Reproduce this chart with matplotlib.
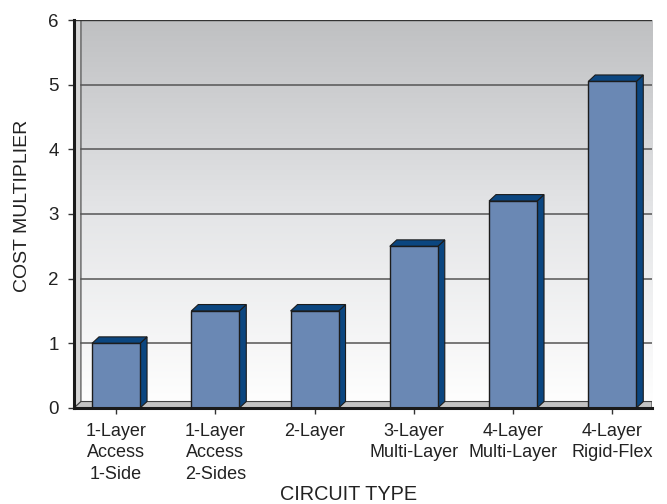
import matplotlib

matplotlib.use("Agg")

import matplotlib.pyplot as plt
import numpy as np
from matplotlib.colors import LinearSegmentedColormap
from matplotlib.patches import Polygon, Rectangle

plt.rcParams["font.family"] = ["Liberation Sans", "DejaVu Sans"]

CATEGORIES = [
    "1-Layer\nAccess\n1-Side",
    "1-Layer\nAccess\n2-Sides",
    "2-Layer",
    "3-Layer\nMulti-Layer",
    "4-Layer\nMulti-Layer",
    "4-Layer\nRigid-Flex",
]
COST = [1.0, 1.5, 1.5, 2.5, 3.2, 5.05]
Y_TICKS = [0, 1, 2, 3, 4, 5, 6]

FRONT = "#6a88b4"
SIDE = "#0b4680"
EDGE = "#1c1c1c"

BAR_W = 0.484
DX = 0.07   # depth offset in x (data units)
DY = 0.10   # depth offset in y (data units)
XMIN, XMAX = -0.424, 5.40
YMAX = 6.0


def draw_walls(ax):
    # back wall gradient
    cmap = LinearSegmentedColormap.from_list("wall", ["#fefefe", "#e4e5e7", "#bfc0c2"])
    grad = np.linspace(0, 1, 256).reshape(-1, 1)
    ax.imshow(grad, cmap=cmap, origin="lower", aspect="auto",
              extent=[XMIN + DX, XMAX, DY, YMAX], zorder=0)
    # left side wall
    ax.add_patch(Polygon([(XMIN, 0), (XMIN + DX, DY), (XMIN + DX, YMAX), (XMIN, YMAX)],
                         closed=True, facecolor="#d6d6d6", edgecolor="#444444", lw=0.8, zorder=1))
    # floor
    ax.add_patch(Polygon([(XMIN, 0), (XMIN + DX, DY), (XMAX, DY), (XMAX, 0)],
                         closed=True, facecolor="#c4c4c4", edgecolor="#444444", lw=0.8, zorder=1))
    # gridlines on back wall
    for v in Y_TICKS[1:-1]:
        ax.plot([XMIN + DX, XMAX], [v, v], color="#555555", lw=1.1, zorder=2)
    ax.plot([XMIN, XMAX], [YMAX, YMAX], color="#333333", lw=1.0, zorder=2)


def draw_bar(ax, x, h):
    x0 = x - BAR_W / 2
    x1 = x + BAR_W / 2
    ax.add_patch(Rectangle((x0, 0), BAR_W, h, facecolor=FRONT, edgecolor=EDGE, lw=1.0, zorder=4))
    ax.add_patch(Polygon([(x1, 0), (x1 + DX, DY), (x1 + DX, h + DY), (x1, h)],
                         closed=True, facecolor=SIDE, edgecolor=EDGE, lw=0.8, zorder=3))
    ax.add_patch(Polygon([(x0, h), (x0 + DX, h + DY), (x1 + DX, h + DY), (x1, h)],
                         closed=True, facecolor=SIDE, edgecolor=EDGE, lw=0.8, zorder=3))


def main():
    fig = plt.figure(figsize=(6.67, 5.04), dpi=100)
    ax = fig.add_axes([74 / 667, 96 / 504, 578 / 667, 388 / 504])

    draw_walls(ax)
    xs = np.arange(len(CATEGORIES))
    for x, h in zip(xs, COST):
        draw_bar(ax, x, h)

    ax.set_xlim(XMIN, XMAX)
    ax.set_ylim(0, YMAX)
    for side in ["top", "right"]:
        ax.spines[side].set_visible(False)
    ax.spines["left"].set_linewidth(2.2)
    ax.spines["bottom"].set_linewidth(2.2)
    ax.spines["left"].set_color("#1a1a1a")
    ax.spines["bottom"].set_color("#1a1a1a")
    ax.spines["left"].set_zorder(6)
    ax.spines["bottom"].set_zorder(6)

    ax.set_yticks(Y_TICKS)
    ax.set_yticklabels([str(v) for v in Y_TICKS], fontsize=13.5, color="#222222")
    ax.set_xticks(xs)
    ax.set_xticklabels(CATEGORIES, fontsize=13, color="#222222", linespacing=1.32)
    ax.tick_params(axis="y", length=4, width=1.0, pad=7, color="#333333")
    ax.tick_params(axis="x", length=4, width=1.0, pad=7, color="#333333")

    fig.text(23 / 667, 1 - 206 / 504, "COST MULTIPLIER", rotation=90, fontsize=14,
             ha="center", va="center", color="#222222")
    fig.text(349 / 667, 1 - 495 / 504, "CIRCUIT TYPE", fontsize=14.3,
             ha="center", va="center", color="#222222")

    fig.savefig("out.png", dpi=100)
    plt.close(fig)


if __name__ == "__main__":
    main()
